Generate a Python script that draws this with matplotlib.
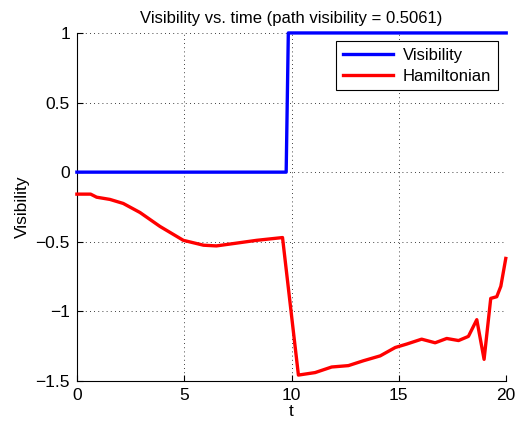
import matplotlib
matplotlib.use("Agg")
import matplotlib.pyplot as plt

plt.rcParams['font.family'] = ['Liberation Sans', 'DejaVu Sans']
plt.rcParams['font.size'] = 12

# visibility: step from 0 to 1 just before t = 10
vis_t = [0, 9.75, 9.85, 20]
vis_v = [0, 0, 1, 1]

# Hamiltonian samples
ham_t = [0, 0.64, 0.92, 1.54, 2.16, 2.94, 3.87, 4.96, 5.9, 6.5, 7.44, 8.37,
         9.58, 10.32, 11.1, 11.87, 12.65, 13.35, 14.13, 14.83, 15.37, 16.06,
         16.69, 17.23, 17.78, 18.24, 18.63, 18.97, 19.28, 19.56, 19.75, 19.98]
ham_v = [-0.158, -0.158, -0.18, -0.196, -0.225, -0.29, -0.39, -0.49, -0.525,
         -0.53, -0.51, -0.49, -0.47, -1.458, -1.44, -1.40, -1.39, -1.355,
         -1.32, -1.26, -1.235, -1.20, -1.226, -1.195, -1.21, -1.18, -1.06,
         -1.345, -0.907, -0.895, -0.82, -0.62]

yticks = [-1.5, -1, -0.5, 0, 0.5, 1]
ytick_labels = ['\u22121.5', '\u22121', '\u22120.5', '0', '0.5', '1']
xticks = [0, 5, 10, 15, 20]

fig = plt.figure(figsize=(5.16, 4.28), dpi=100)
ax = fig.add_axes([0.149, 0.110, 0.832, 0.813])

ax.plot(vis_t, vis_v, color='#0000ff', lw=2.4, label='Visibility', clip_on=False, zorder=3)
ax.plot(ham_t, ham_v, color='#ff0000', lw=2.4, label='Hamiltonian', clip_on=False, zorder=3)

ax.set_xlim(0, 20)
ax.set_ylim(-1.5, 1)
ax.set_xticks(xticks)
ax.set_yticks(yticks)
ax.set_yticklabels(ytick_labels)
ax.tick_params(direction='in', length=4, width=0.8, labelsize=12.5, pad=5)

ax.grid(True, color='black', linestyle=(0, (1, 4)), linewidth=0.6)
ax.spines['top'].set_visible(False)
ax.spines['right'].set_visible(False)

ax.set_title('Visibility vs. time (path visibility = 0.5061)', fontsize=12, pad=7)
ax.set_xlabel('t', fontsize=12.5, labelpad=1)
ax.set_ylabel('Visibility', fontsize=12.5, labelpad=4)

leg = ax.legend(loc='upper right', fancybox=False, edgecolor='black',
                framealpha=1, fontsize=12, handlelength=3.0,
                borderaxespad=0.5, borderpad=0.4, labelspacing=0.35,
                handletextpad=0.6)
leg.get_frame().set_linewidth(0.8)

fig.savefig('out.png', dpi=100)
